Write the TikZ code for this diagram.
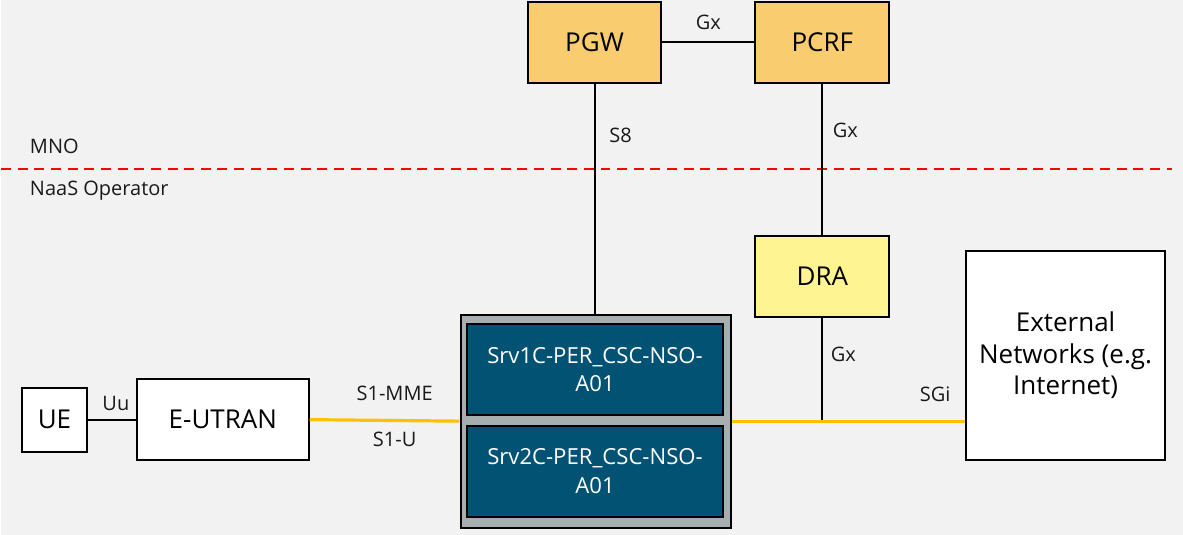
\documentclass[tikz,border=0pt]{standalone}
\usepackage{fontspec}
\setmainfont{Open Sans}
\usetikzlibrary{positioning}

\definecolor{pagebg}{RGB}{242,242,242}
\definecolor{gwfill}{RGB}{250,204,112}
\definecolor{drafill}{RGB}{255,244,145}
\definecolor{hostfill}{RGB}{166,174,176}
\definecolor{vmfill}{RGB}{2,82,116}
\definecolor{ifline}{RGB}{255,192,0}
\definecolor{mnored}{RGB}{255,0,0}

\tikzset{every picture/.style={line width=1.5pt}}
\tikzset{
  nfbox/.style={draw=black,line width=1.5pt,inner sep=0pt,align=center,font=\fontsize{19.5}{24}\selectfont},
  gwbox/.style={nfbox,minimum width=100.5pt,minimum height=60.75pt},
  vmbox/.style={draw=black,line width=1.5pt,fill=vmfill,text=white,inner sep=0pt,align=center,
    minimum width=192.75pt,minimum height=68.25pt,font=\fontsize{16.6}{21.5}\selectfont},
  iflabel/.style={inner sep=0.75pt,font=\fontsize{15}{18}\selectfont,text={rgb,255:red,26;green,26;blue,26}},
  link/.style={draw=black,line width=1.5pt},
  userplane/.style={draw=ifline,line width=2.4pt}
}

\begin{document}
\begin{tikzpicture}[x=0.75pt,y=0.75pt,yscale=-1,xscale=1]
%set diagram at 1183 x 535
\path [fill=pagebg] (0,0) rectangle (1183,535);

%Shape: Rectangle [PGW]
\node [gwbox,fill=gwfill] (pgw) at (594,42.5) {PGW};
%Shape: Rectangle [PCRF]
\node [gwbox,fill=gwfill] (pcrf) at (822,42.5) {PCRF};
%Shape: Rectangle [DRA]
\node [gwbox,fill=drafill] (dra) at (822,276.5) {DRA};
%Shape: Rectangle [host]
\node [draw=black,line width=1.5pt,fill=hostfill,minimum width=203.25pt,minimum height=159.75pt,inner sep=0pt] (host) at (595.5,421.5) {};
%Shape: Rectangle [Srv1C]
\node [vmbox] (srv1) at (594.5,370) {Srv1C-PER\_CSC-NSO-\\A01};
%Shape: Rectangle [Srv2C]
\node [vmbox] (srv2) at (594.5,471.5) {Srv2C-PER\_CSC-NSO-\\A01};
%Shape: Square [UE]
\node [nfbox,fill=white,minimum width=48.75pt,minimum height=48pt] (ue) at (53.5,420) {UE};
%Shape: Rectangle [E-UTRAN]
\node [nfbox,fill=white,minimum width=129pt,minimum height=60.75pt] (eutran) at (222,420) {E-UTRAN};
%Shape: Rectangle [External Networks]
\node [nfbox,fill=white,minimum width=149.25pt,minimum height=156.75pt] (ext) at (1065.5,355.5) {External\\Networks (e.g.\\Internet)};

%Straight Lines [MNO border]
\draw [mnored,line width=1.5pt,dash pattern=on 7.5pt off 5pt] (0,169) -- (1172,169) ;

%Straight Lines [Gx PGW-PCRF]
\draw [link] (pgw.east) -- (pcrf.west) ;
%Straight Lines [S8]
\draw [link] (pgw.south) -- (pgw.south |- host.north) ;
%Straight Lines [Gx PCRF-DRA]
\draw [link] (pcrf.south) -- (dra.north) ;
%Straight Lines [Gx DRA-host]
\coordinate (gxjoin) at (dra.south |- host.east) ;
\draw [link] (dra.south) -- (gxjoin) ;
%Straight Lines [Uu]
\draw [link] (ue.east) -- (eutran.west) ;
%Straight Lines [S1]
\draw [userplane] (eutran.east) -- (host.west) ;
%Straight Lines [SGi]
\draw [userplane] (host.east) -- (host.east -| ext.west) ;

% Text Node
\draw (708,22) node [iflabel] {Gx};
% Text Node
\draw (620,135) node [iflabel] {S8};
% Text Node
\draw (845,130) node [iflabel] {Gx};
% Text Node
\draw (843,355) node [iflabel] {Gx};
% Text Node
\draw (935,395) node [iflabel] {SGi};
% Text Node
\draw (394,394) node [iflabel] {S1-MME};
% Text Node
\draw (394,440) node [iflabel] {S1-U};
% Text Node
\draw (115,404) node [iflabel] {Uu};
% Text Node
\draw (27,146) node [iflabel,anchor=west] {MNO};
% Text Node
\draw (27,191) node [iflabel,anchor=west] {NaaS Operator};

\end{tikzpicture}
\end{document}
